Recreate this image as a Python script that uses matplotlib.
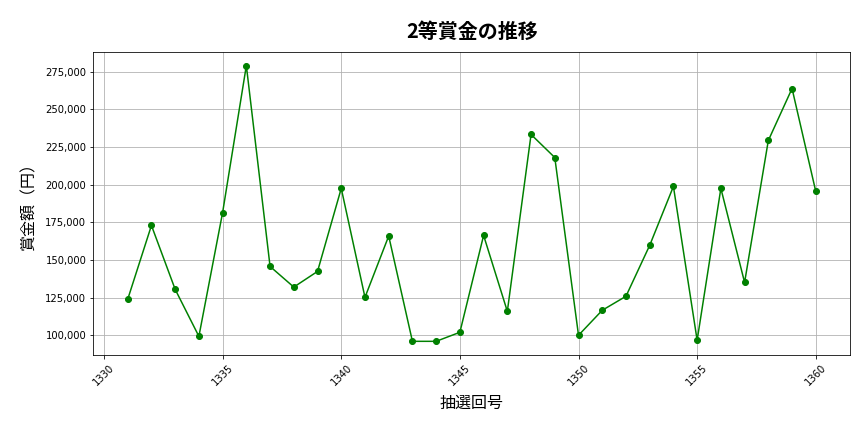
import matplotlib
matplotlib.use("Agg")
import matplotlib.pyplot as plt
from matplotlib.ticker import FuncFormatter

# draw numbers and 2nd-prize amounts (yen)
draws = list(range(1331, 1361))
prize = [
    123900, 172900, 130500, 99300, 181500, 279000, 145700, 132000, 142400, 197500,
    125200, 165900, 96000, 96000, 102000, 166300, 115900, 233300, 218000, 100000,
    116600, 125900, 159700, 198800, 96700, 197500, 135100, 229300, 263800, 195500,
]

jp = ["Noto Sans CJK JP", "DejaVu Sans"]

fig, ax = plt.subplots(figsize=(12, 6), dpi=72)
ax.plot(draws, prize, marker="o", color="green")

ax.set_title("2等賞金の推移", family=jp, fontsize=20, fontweight="bold", pad=14)
ax.set_xlabel("抽選回号", family=jp, fontsize=16, labelpad=8)
ax.set_ylabel("賞金額（円）", family=jp, fontsize=16, labelpad=8)

ax.yaxis.set_major_formatter(FuncFormatter(lambda v, p: f"{int(v):,}"))
plt.setp(ax.get_xticklabels(), rotation=45)
ax.grid(True)

plt.subplots_adjust(left=0.108, right=0.984, top=0.880, bottom=0.178)
plt.savefig("out.png")
